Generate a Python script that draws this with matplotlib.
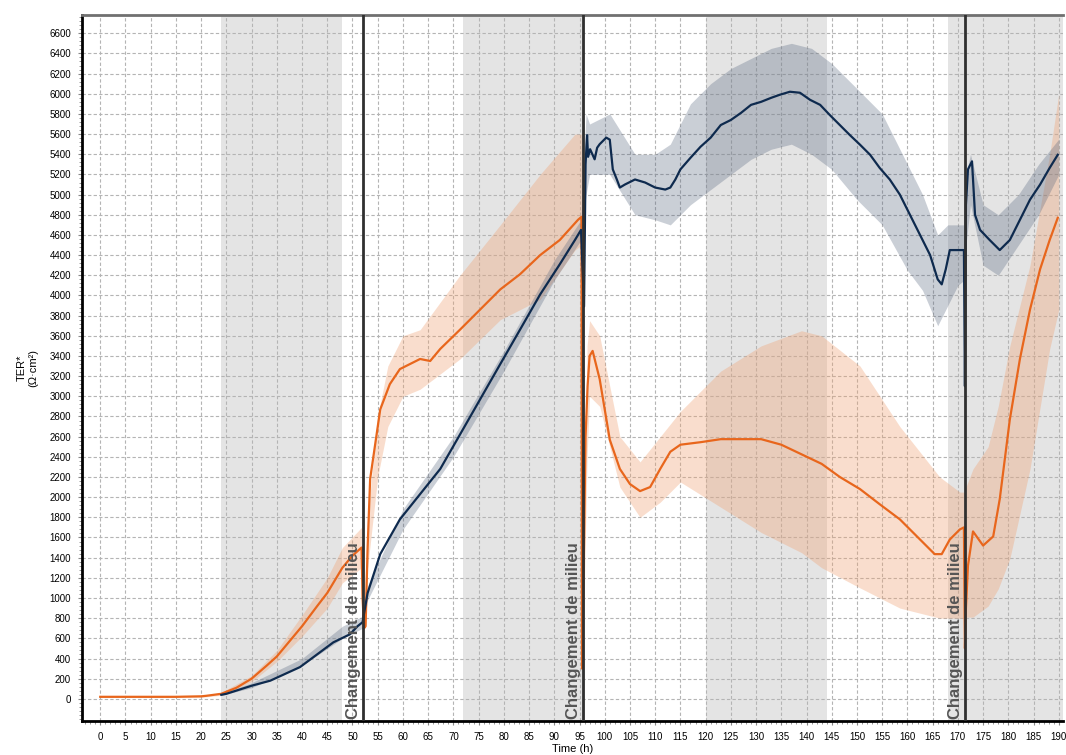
import numpy as np
import matplotlib
matplotlib.use('Agg')
import matplotlib.pyplot as plt
from matplotlib.ticker import MultipleLocator

plt.rcParams['font.family'] = ['Liberation Sans', 'DejaVu Sans']

# Orange series (mean) and its band
orange_t = [0, 5, 10, 15, 20, 21, 24, 25, 27, 30, 33, 35, 38, 40, 43, 45, 48, 50, 51.8,
            52.0, 52.3, 52.6, 53.0, 53.5, 55.5, 57.4, 59.4, 63.4, 65.4, 67.4, 71.3, 75.3,
            79.3, 83.2, 87.2, 91.1, 94.7, 95.4,
            95.5, 95.8, 96.2, 96.6, 97.0, 97.6, 99, 101, 103, 105, 107, 109, 111, 113, 115,
            119, 123, 127, 131, 135, 139, 143, 146.6, 150.6, 154.5, 158.5, 162.5, 165.4,
            166.8, 168.4, 170.4, 171.2,
            171.4, 171.6, 172.0, 173.0, 175.0, 177.0, 178.3, 180.3, 182.3, 184.3, 186.3,
            188.2, 189.8]
orange_v = [20, 20, 20, 20, 25, 30, 50, 70, 110, 200, 330, 420, 600, 720, 920, 1050, 1300, 1420, 1500,
            1000, 700, 720, 1500, 2180, 2870, 3120, 3270, 3370, 3350, 3470, 3660, 3860,
            4060, 4210, 4400, 4550, 4750, 4780,
            300, 1200, 2600, 3100, 3400, 3450, 3170, 2570, 2280, 2130, 2060, 2100, 2280, 2450, 2520,
            2545, 2575, 2575, 2575, 2520, 2425, 2330, 2200, 2080, 1930, 1780, 1580, 1435,
            1435, 1580, 1680, 1700,
            500, 900, 1320, 1660, 1520, 1610, 1980, 2770, 3370, 3860, 4260,
            4550, 4770]

orange_band_t = [0, 20, 24, 30, 35, 40, 45, 48, 51.8, 52.2, 53.0, 55, 57, 60, 63.4, 71.3, 79.3,
                 87.2, 94.1, 95.4, 95.6, 96.5, 97, 99, 103, 107, 111, 115, 123, 131, 139, 143,
                 150.6, 158.5, 166.4, 170.4, 171.4, 171.6, 173, 176, 178, 180.3, 184.3, 188.2, 190]
orange_lo = [15, 15, 35, 170, 370, 620, 900, 1150, 1300, 650, 1300, 2200, 2700, 3000, 3070, 3370, 3760,
             3960, 4450, 4500, 250, 2400, 3000, 2900, 2100, 1800, 1950, 2150, 1900, 1650, 1450, 1300,
             1100, 900, 800, 800, 800, 810, 810, 920, 1090, 1390, 2280, 3470, 3860]
orange_hi = [25, 25, 65, 230, 480, 830, 1200, 1500, 1700, 800, 1800, 2800, 3300, 3600, 3660, 4200, 4700,
             5200, 5600, 5600, 400, 3500, 3750, 3600, 2600, 2350, 2600, 2850, 3250, 3500, 3650, 3600,
             3300, 2700, 2200, 2050, 2050, 2100, 2280, 2500, 2900, 3500, 4300, 5400, 6000]

# Navy series (mean) and its band
navy_t = [24, 25, 30, 33.7, 39.6, 46.2, 49.5, 51, 52.0, 53.0, 55.5, 59.4, 63.4, 67.4, 71.3, 75.3,
          79.3, 83.2, 87.2, 91.1, 94.1, 95.3,
          95.9, 96.2, 96.5, 96.7, 97.1, 98, 98.5, 99, 100.3, 101, 101.6, 102.4, 103, 104, 106, 108,
          110, 112, 113, 114, 115, 117, 119, 121, 123, 125, 127, 129, 131, 133, 134.7, 136.7,
          138.7, 140.7, 142.7, 144.6, 146.6, 148.6, 150.6, 152.6, 154.5, 156.5, 158.5, 160.5,
          162.5, 164.5, 166, 166.8, 167.6, 168.4, 169.4, 170.4, 171.2,
          171.4, 171.6, 172.0, 172.8, 173.4, 174.4, 176.3, 178.3, 180.3, 182.3, 184.3, 186.3,
          188.2, 189.8]
navy_v = [40, 50, 130, 180, 315, 560, 640, 720, 760, 1050, 1435, 1780, 2030, 2280, 2620, 2970,
          3320, 3660, 4010, 4310, 4550, 4650,
          3890, 5300, 5590, 5375, 5450, 5350, 5465, 5500, 5565, 5545, 5250, 5150, 5070, 5100, 5150, 5120,
          5070, 5050, 5070, 5150, 5250, 5365, 5475, 5565, 5690, 5740, 5810, 5890, 5920, 5960, 5990, 6020,
          6010, 5940, 5890, 5790, 5690, 5590, 5495, 5395, 5265, 5150, 5000, 4800,
          4600, 4400, 4160, 4110, 4260, 4450, 4450, 4450, 4450,
          3100, 4900, 5250, 5330, 4800, 4650, 4550, 4450, 4550, 4750, 4950, 5100,
          5265, 5395]

navy_band_t = [24, 30, 40, 48, 52, 53, 60, 70, 80, 90, 95.3, 96.3, 97, 101, 106, 110, 113, 117,
               121, 125, 129, 133, 137, 141, 145, 150, 155, 160, 163, 166, 168, 170, 171.2, 171.6,
               172.5, 175, 178, 182, 186, 190]
navy_lo = [35, 110, 330, 600, 700, 980, 1680, 2400, 3250, 4150, 4550, 5000, 5200, 5200, 4800, 4750,
           4700, 4900, 5050, 5200, 5350, 5450, 5500, 5400, 5250, 4950, 4700, 4250, 4050, 3700, 3900,
           4100, 4150, 4500, 4900, 4300, 4200, 4500, 4800, 5200]
navy_hi = [50, 160, 400, 720, 820, 1120, 1880, 2600, 3450, 4350, 4750, 5800, 5700, 5800, 5400, 5400,
           5500, 5900, 6100, 6250, 6350, 6450, 6500, 6450, 6300, 6050, 5800, 5300, 5000, 4600, 4700,
           4700, 4700, 5200, 5400, 4900, 4800, 5000, 5300, 5550]

# Night periods (gray) and medium changes
night_start = [24, 72, 120, 168]
night_end = [48, 96, 144, 192]
changes = [52, 95.6, 171.4]
change_label = 'Changement de milieu'

fig = plt.figure(figsize=(10.66, 7.55), dpi=100)
ax = fig.add_axes([0.077, 0.045, 0.920, 0.935])

for s, e in zip(night_start, night_end):
    ax.axvspan(s, e, color='#e4e4e4', lw=0, zorder=0)

ax.fill_between(orange_band_t, orange_lo, orange_hi, color='#f0a070', alpha=0.35, lw=0, zorder=2)
ax.fill_between(navy_band_t, navy_lo, navy_hi, color='#50607a', alpha=0.3, lw=0, zorder=2)

ax.plot(navy_t, navy_v, color='#0e2a4e', lw=1.6, zorder=4)
ax.plot(orange_t, orange_v, color='#e8661c', lw=1.6, zorder=3)

for c in changes:
    ax.axvline(c, color='#303030', lw=2, zorder=5)
    ax.text(c - 0.4, -200, change_label, rotation=90, ha='right', va='bottom',
            fontsize=12, color='#555555', fontweight='bold', zorder=6)

ax.set_xlim(-3.6, 190.8)
ax.set_ylim(-220, 6780)
ax.xaxis.set_major_locator(MultipleLocator(5))
ax.xaxis.set_minor_locator(MultipleLocator(1))
ax.yaxis.set_major_locator(MultipleLocator(200))
ax.yaxis.set_minor_locator(MultipleLocator(40))
ax.set_xticks(np.arange(0, 191, 5))
ax.set_yticks(np.arange(0, 6601, 200))
ax.tick_params(axis='both', which='major', labelsize=7, length=3, color='#888888', pad=5)
ax.tick_params(axis='both', which='minor', length=2, color='#888888')
ax.grid(True, which='major', color='#b4b4b4', ls=(0, (3, 2)), lw=0.8, zorder=1)
ax.set_axisbelow(True)

ax.spines['left'].set_linewidth(2)
ax.spines['bottom'].set_linewidth(2)
ax.spines['top'].set_linewidth(2)
ax.spines['top'].set_color('#707070')
ax.spines['right'].set_visible(False)

ax.set_xlabel('Time (h)', fontsize=8, labelpad=1)
ax.set_ylabel('TER*\n(Ω·cm²)', fontsize=8, labelpad=8)

fig.savefig('out.png', dpi=100)
